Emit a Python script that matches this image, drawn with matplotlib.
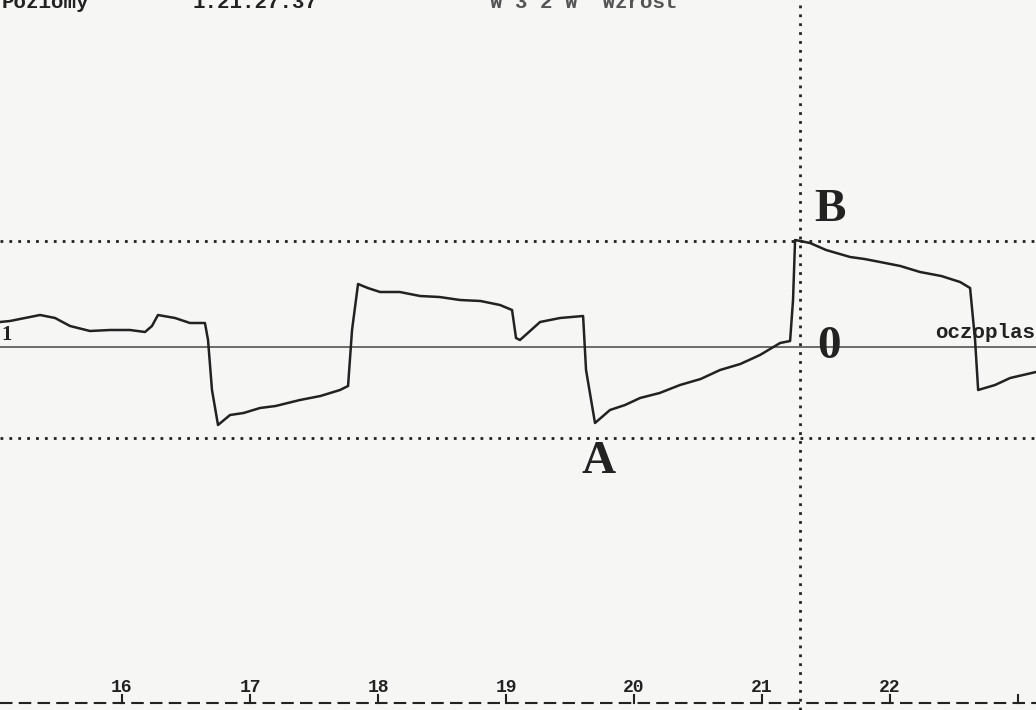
import numpy as np
import matplotlib
matplotlib.use('Agg')
import matplotlib.pyplot as plt

# time (s) and amplitude (arbitrary units, 0 = baseline)
t_sec = [15.047, 15.125, 15.242, 15.36, 15.477, 15.594, 15.75, 15.906, 16.062, 16.18,
         16.234, 16.281, 16.414, 16.531, 16.648, 16.672, 16.703, 16.75, 16.844, 16.95,
         17.078, 17.2, 17.39, 17.55, 17.703, 17.766, 17.797, 17.844, 17.92, 18.016,
         18.17, 18.328, 18.48, 18.641, 18.8, 18.953, 19.047, 19.078, 19.109, 19.266,
         19.422, 19.602, 19.625, 19.695, 19.812, 19.93, 20.047, 20.2, 20.359, 20.52,
         20.672, 20.83, 20.984, 21.141, 21.219, 21.242, 21.258, 21.375, 21.5, 21.688,
         21.8, 21.922, 22.08, 22.234, 22.4, 22.547, 22.625, 22.664, 22.688, 22.82,
         22.938, 23.14]
amp = [25, 26, 29, 32, 29, 21, 16, 17, 17, 15,
       21, 32, 29, 24, 24, 7, -43, -78, -68, -66,
       -61, -59, -53, -49, -43, -39, 17, 63, 59, 55,
       55, 51, 50, 47, 46, 42, 37, 9, 7, 25,
       29, 31, -23, -76, -63, -58, -51, -46, -38, -32,
       -23, -17, -8, 4, 6, 47, 107, 104, 97, 90,
       88, 85, 81, 75, 71, 65, 59, 7, -43, -38,
       -31, -25]

tick_pos = [16, 17, 18, 19, 20, 21, 22, 23]
tick_labels = ['16', '17', '18', '19', '20', '21', '22', '']

level_B = 106
level_A = -91
marker_t = 21.297

fig = plt.figure(figsize=(10.36, 7.10), dpi=100)
fig.patch.set_facecolor('#f6f6f5')
ax = fig.add_axes([0, 0, 1, 1])
ax.set_facecolor('#f6f6f5')
ax.set_xlim(15.047, 23.14)
ax.set_ylim(-363, 347)
ax.axis('off')

ink = '#222222'
mono = 'Liberation Mono'

# baseline and dotted reference levels
ax.axhline(0, color='#555555', lw=1.2)
ax.axhline(level_B, color=ink, lw=2, ls=(0, (1, 2.2)))
ax.axhline(level_A, color=ink, lw=2, ls=(0, (1, 2.2)))
ax.axvline(marker_t, color=ink, lw=2, ls=(0, (1, 2.2)))

# trace
ax.plot(t_sec, amp, color=ink, lw=1.8, solid_joinstyle='round')

# time axis at the bottom
ax.axhline(-356, color=ink, lw=1.5, ls=(0, (6, 3)))
for p, lab in zip(tick_pos, tick_labels):
    ax.plot([p, p], [-356, -348], color=ink, lw=1.5)
    ax.text(p, -341, lab, ha='center', va='center', fontsize=13,
            family=mono, weight='bold', color=ink)

# labels
ax.text(21.53, 137, 'B', fontsize=34, family='Liberation Serif',
        weight='bold', ha='center', va='center', color=ink)
ax.text(19.72, -115, 'A', fontsize=34, family='Liberation Serif',
        weight='bold', ha='center', va='center', color=ink)
ax.text(21.52, 0, '0', fontsize=34, family='Liberation Serif',
        weight='bold', ha='center', va='center', color=ink)
ax.text(15.06, 12, '1', fontsize=15, family='Liberation Serif',
        weight='bold', ha='left', va='center', color=ink)
ax.text(23.13, 14, 'oczoplas', fontsize=15, family=mono,
        weight='bold', ha='right', va='center', color=ink)

# header, cut off at the top edge as in the scan
ax.text(15.06, 339, 'Poziomy', fontsize=15, family=mono,
        weight='bold', ha='left', va='baseline', color=ink)
ax.text(16.55, 339, '1:21:27:37', fontsize=15, family=mono,
        weight='bold', ha='left', va='baseline', color=ink)
ax.text(18.875, 339, 'W 3 2 W  Wzrost', fontsize=15, family=mono,
        weight='bold', ha='left', va='baseline', color='#555555')

fig.savefig('out.png', dpi=100, facecolor=fig.get_facecolor())
